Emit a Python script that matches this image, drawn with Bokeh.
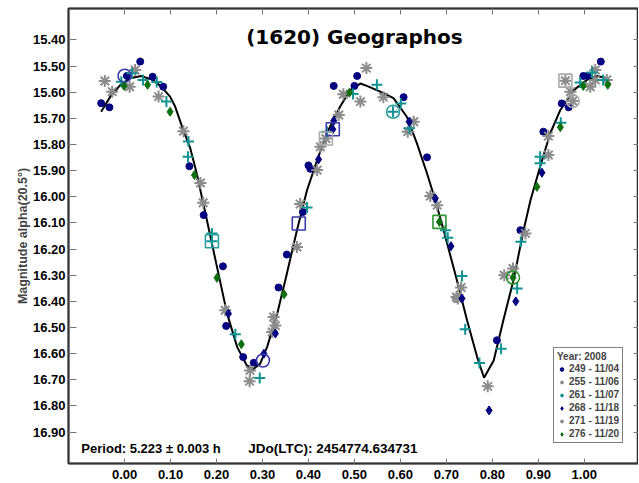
from bokeh.plotting import figure
from bokeh.models import (Range1d, LinearAxis, FixedTicker, PrintfTickFormatter,
                          Legend, LegendItem, Label, ColumnDataSource)
from bokeh.core.properties import field
from bokeh.embed import file_html
from bokeh.resources import INLINE

# ---------------- data ----------------
x_ticks = [0.0, 0.1, 0.2, 0.3, 0.4, 0.5, 0.6, 0.7, 0.8, 0.9, 1.0]
y_ticks = [15.4, 15.5, 15.6, 15.7, 15.8, 15.9, 16.0, 16.1, 16.2, 16.3, 16.4,
           16.5, 16.6, 16.7, 16.8, 16.9]

curve_phase = [-0.051, -0.031, -0.009, 0.012, 0.036, 0.061, 0.078, 0.099, 0.110,
               0.125, 0.143, 0.157, 0.168, 0.179, 0.201, 0.223, 0.245, 0.266, 0.279,
               0.295, 0.310, 0.332, 0.353, 0.375, 0.397, 0.419, 0.440, 0.469, 0.491,
               0.513, 0.527, 0.556, 0.585, 0.614, 0.636, 0.658, 0.676, 0.694, 0.723,
               0.745, 0.767, 0.782, 0.803, 0.824, 0.846, 0.868, 0.883, 0.904, 0.926,
               0.948, 0.977, 1.006, 1.028, 1.049]
curve_mag = [15.675, 15.617, 15.572, 15.547, 15.538, 15.553, 15.576, 15.617, 15.655,
             15.732, 15.815, 15.911, 16.000, 16.089, 16.268, 16.447, 16.575, 16.645,
             16.660, 16.638, 16.575, 16.447, 16.294, 16.128, 15.974, 15.860, 15.757,
             15.655, 15.592, 15.567, 15.576, 15.598, 15.623, 15.694, 15.796, 15.911,
             16.013, 16.128, 16.319, 16.472, 16.613, 16.692, 16.626, 16.472, 16.319,
             16.128, 16.013, 15.885, 15.757, 15.668, 15.592, 15.553, 15.538, 15.547]

s249_x = [-0.051, -0.033, 0.005, 0.034, 0.061, 0.084, 0.141, 0.172, 0.214, 0.221,
          0.258, 0.281, 0.335, 0.353, 0.388, 0.400, 0.404, 0.455, 0.506, 0.500,
          0.607, 0.658, 0.810, 0.861, 0.911, 0.951, 0.966, 0.998, 1.007, 1.036]
s249_y = [15.642, 15.658, 15.538, 15.483, 15.541, 15.579, 15.883, 16.070, 16.266, 16.494,
          16.613, 16.635, 16.347, 16.221, 16.058, 15.880, 15.893, 15.576, 15.538, 15.576,
          15.619, 15.849, 16.549, 16.128, 15.751, 15.643, 15.658, 15.538, 15.538, 15.483]

s255_x = [-0.043, -0.027, 0.011, 0.023, 0.074, 0.128, 0.165, 0.171, 0.219, 0.272,
          0.273, 0.321, 0.324, 0.328, 0.375, 0.382, 0.419, 0.426, 0.438, 0.466,
          0.476, 0.513, 0.526, 0.563, 0.959, 1.013, 1.024, 1.049]
s255_y = [15.557, 15.598, 15.579, 15.515, 15.617, 15.749, 15.947, 16.023, 16.434, 16.705,
          16.664, 16.517, 16.460, 16.492, 16.192, 16.028, 15.898, 15.809, 15.777, 15.687,
          15.608, 15.636, 15.508, 15.619, 15.556, 15.579, 15.515, 15.553]

s261_x = [-0.007, 0.016, 0.040, 0.070, 0.091, 0.139, 0.138, 0.190, 0.190, 0.241,
          0.294, 0.397, 0.440, 0.497, 0.549, 0.584, 0.601, 0.620, 0.698, 0.703,
          0.734, 0.741, 0.772, 0.819, 0.854, 0.862, 0.904, 0.904, 0.949, 0.991,
          1.017, 1.041]
s261_y = [15.560, 15.528, 15.553, 15.561, 15.636, 15.789, 15.847, 16.140, 16.170, 16.526,
          16.693, 16.041, 15.751, 15.607, 15.572, 15.675, 15.643, 15.738, 16.128, 16.157,
          16.303, 16.507, 16.636, 16.581, 16.351, 16.172, 15.847, 15.872, 15.717, 15.563,
          15.525, 15.553]

s268_x = [0.226, 0.303, 0.328, 0.422, 0.455, 0.453, 0.619, 0.676, 0.710, 0.734,
          0.793, 0.851, 0.908]
s268_y = [16.447, 16.600, 16.523, 15.857, 15.709, 15.742, 15.713, 16.006, 16.189, 16.389,
          16.817, 16.400, 15.908]

s271_x = [0.616, 0.629, 0.665, 0.680, 0.722, 0.725, 0.732, 0.790, 0.826, 0.845,
          0.872, 0.922, 0.922, 0.970, 0.975, 1.024]
s271_y = [15.751, 15.713, 15.997, 16.032, 16.383, 16.389, 16.347, 16.725, 16.300, 16.274,
          16.140, 15.768, 15.840, 15.598, 15.634, 15.553]

s276_x = [-0.001, 0.050, 0.099, 0.152, 0.201, 0.254, 0.347, 0.489, 0.685, 0.845,
          0.897, 0.948, 0.998, 1.051]
s276_y = [15.576, 15.572, 15.675, 15.917, 16.310, 16.564, 16.373, 15.602, 16.096, 16.309,
          15.962, 15.734, 15.576, 15.572]

ring_x = [0.000, 0.301, 0.584, 0.845, 0.975, 0.190, 0.379, 0.453, 0.438, 0.959, 0.685]
ring_y = [15.537, 16.626, 15.675, 16.309, 15.634, 16.170, 16.102, 15.742, 15.777, 15.556, 16.096]
ring_marker = ["circle", "circle", "circle", "circle", "circle",
               "square", "square", "square", "square", "square", "square"]
ring_color = ["#3a3aa8", "#3a3aa8", "#2a9d9d", "#2e962e", "#aaaaaa",
              "#2a9d9d", "#3a3aa8", "#3a3aa8", "#aaaaaa", "#aaaaaa", "#2e962e"]

legend_labels = ["249 - 11/04", "255 - 11/06", "261 - 11/07",
                 "268 - 11/18", "271 - 11/19", "276 - 11/20"]

# ---------------- figure ----------------
FONT = "Liberation Sans"
p = figure(frame_width=570, frame_height=455, output_backend="svg", toolbar_location=None,
           x_range=Range1d(-0.122, 1.118), y_range=Range1d(17.02, 15.28),
           min_border_left=68, min_border_right=0, min_border_top=8,
           min_border_bottom=20, background_fill_color="white",
           border_fill_color="white")
p.xgrid.visible = False
p.ygrid.visible = False
p.outline_line_color = "#222222"
p.outline_line_width = 1.5

xa = p.xaxis[0]
xa.ticker = FixedTicker(ticks=x_ticks)
xa.formatter = PrintfTickFormatter(format="%.2f")
xa.major_tick_in = 5
xa.major_tick_out = 0
xa.major_label_standoff = 6

ya = p.yaxis[0]
ya.ticker = FixedTicker(ticks=y_ticks)
ya.formatter = PrintfTickFormatter(format="%.2f")
ya.major_tick_in = 8
ya.major_tick_out = 0
ya.major_label_standoff = 3
ya.axis_label = "Magnitude alpha(20.5°)"
ya.axis_label_text_font = FONT
ya.axis_label_text_font_style = "bold"
ya.axis_label_text_font_size = "12.5px"
ya.axis_label_standoff = 0

top_axis = LinearAxis(ticker=FixedTicker(ticks=x_ticks),
                      major_label_overrides={t: "" for t in x_ticks},
                      major_tick_in=6, major_tick_out=0, major_label_standoff=0,
                      axis_label_standoff=0, major_label_text_font_size="1px")
right_axis = LinearAxis(ticker=FixedTicker(ticks=y_ticks),
                        major_label_overrides={t: "" for t in y_ticks},
                        major_tick_in=5, major_tick_out=0, major_label_standoff=0,
                        axis_label_standoff=0, major_label_text_font_size="1px")
p.add_layout(top_axis, "above")
p.add_layout(right_axis, "right")

for ax in [xa, ya, top_axis, right_axis]:
    ax.minor_tick_line_color = None
    ax.axis_line_color = "#333333"
    ax.axis_line_width = 2
    ax.major_tick_line_color = "#777777"
    ax.major_tick_line_width = 1
    ax.major_label_text_font = FONT
    ax.major_label_text_font_style = "bold"
    ax.major_label_text_color = "black"
for ax in [xa, ya]:
    ax.major_label_text_font_size = "13px"

# curve
p.line(curve_phase, curve_mag, line_color="black", line_width=2)

# series
r249 = p.scatter(s249_x, s249_y, marker="circle", size=7, fill_color="#000080",
                 line_color="#000080")
r255 = p.scatter(s255_x, s255_y, marker="asterisk", size=12, line_color="#8c8c8c",
                 line_width=2)
r271 = p.scatter(s271_x, s271_y, marker="asterisk", size=12, line_color="#8c8c8c",
                 line_width=2)
r261 = p.scatter(s261_x, s261_y, marker="cross", size=11, line_color="#119393",
                 line_width=2)
r268 = p.scatter(s268_x, s268_y, marker="diamond", size=9, fill_color="#000080",
                 line_color="#000080")
r276 = p.scatter(s276_x, s276_y, marker="diamond", size=9, fill_color="#0f700f",
                 line_color="#0f700f")

ring_src = ColumnDataSource(dict(x=ring_x, y=ring_y, marker=ring_marker, color=ring_color))
p.scatter(x="x", y="y", marker=field("marker"), size=13, fill_color=None,
          line_color="color", line_width=1.6, source=ring_src)

# texts
p.add_layout(Label(x=0.5, y=15.389, text="(1620) Geographos", text_align="center",
                   text_baseline="alphabetic", text_font="DejaVu Sans",
                   text_font_style="bold", text_font_size="20px", text_color="black"))
p.add_layout(Label(x=-0.094, y=16.964, text="Period: 5.223 ± 0.003 h",
                   text_baseline="alphabetic", text_font=FONT, text_font_style="bold",
                   text_font_size="13px", text_color="black"))
p.add_layout(Label(x=0.269, y=16.964, text="JDo(LTC): 2454774.634731",
                   text_baseline="alphabetic", text_font=FONT, text_font_style="bold",
                   text_font_size="13.5px", text_color="black"))

# legend
renderers = [r249, r255, r261, r268, r271, r276]
items = [LegendItem(label=lab, renderers=[r]) for lab, r in zip(legend_labels, renderers)]
legend = Legend(items=items, location=(485, 20), title="Year: 2008",
                title_text_font=FONT, title_text_font_style="bold",
                title_text_font_size="10px", title_standoff=1,
                title_text_line_height=1.0,
                label_text_font=FONT, label_text_font_style="bold",
                label_text_font_size="10px", label_text_line_height=1.0,
                label_height=10, glyph_height=10,
                glyph_width=9, label_standoff=3, spacing=2, padding=3, margin=0,
                border_line_color="black", border_line_width=1.5,
                background_fill_color="white", background_fill_alpha=1.0)
p.add_layout(legend)

open("out.html", "w").write(file_html(p, INLINE))
